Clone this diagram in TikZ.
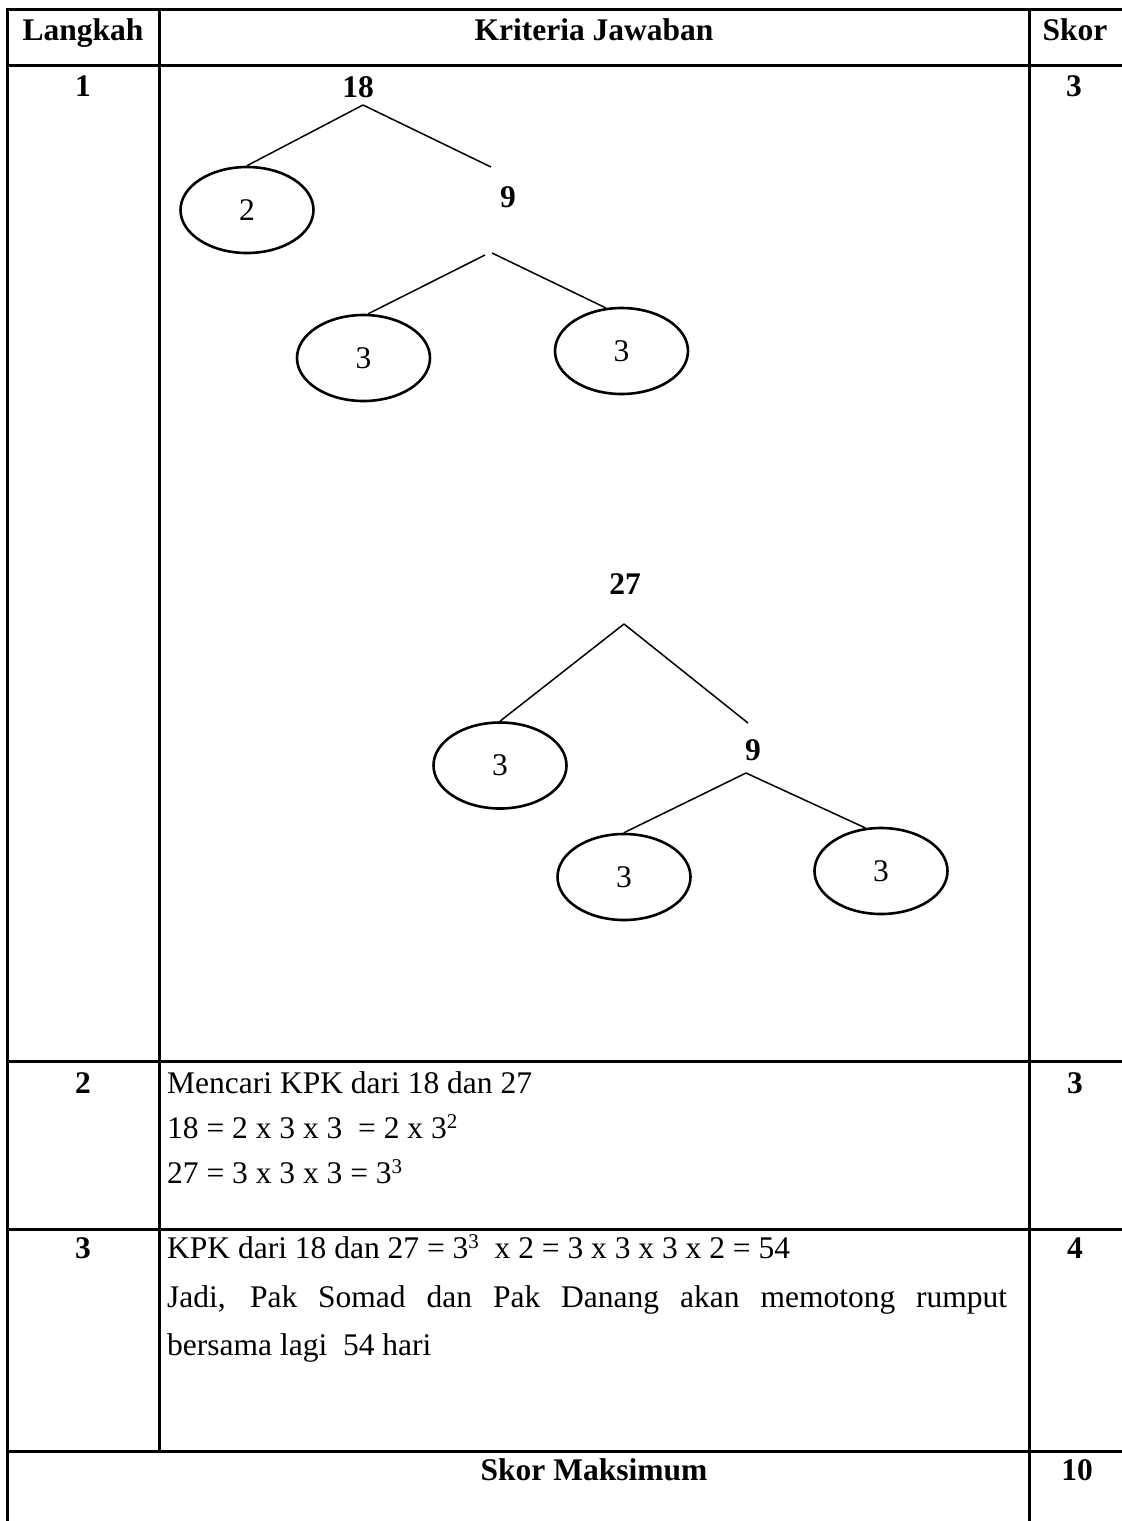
\documentclass[tikz,border=0pt]{standalone}
\usepackage{fontspec}
\setmainfont{Liberation Serif}
\usetikzlibrary{shapes.geometric}
\newcommand{\myfs}{\fontsize{31.5}{38}\selectfont}
\newcommand{\mysup}[1]{\raisebox{10pt}{\fontsize{21}{21}\selectfont #1}}
\begin{document}
\begin{tikzpicture}[x=1pt,y=-1pt,
  grid/.style={line width=3pt, line cap=rect},
  branch/.style={line width=1.5pt},
  factor/.style={draw, ellipse, line width=2.6pt, minimum width=133pt, minimum height=86pt, inner sep=0pt, font=\myfs},
  hd/.style={font=\myfs\bfseries, anchor=base, inner sep=0pt},
  num/.style={font=\myfs\bfseries, anchor=base, inner sep=0pt},
  tx/.style={font=\myfs, anchor=base west, inner sep=0pt}]
\useasboundingbox (0,0) rectangle (1122,1521);
% table rules
\draw[grid] (7.5,9) -- (1122,9);
\draw[grid] (7.5,65) -- (1122,65);
\draw[grid] (7.5,1061) -- (1122,1061);
\draw[grid] (7.5,1229) -- (1122,1229);
\draw[grid] (7.5,1451) -- (1122,1451);
\draw[grid] (7.5,9) -- (7.5,1521);
\draw[grid] (159,9) -- (159,1451);
\draw[grid] (1029,9) -- (1029,1521);
% header
\node[hd] (hL) at (83,40) {Langkah};
\node[hd] (hK) at (594,40) {Kriteria Jawaban};
\node[hd] (hS) at (1075,40) {Skor};
% row 1
\node[num] (n1) at (83,96) {1};
\node[num] (s1) at (1074,96) {3};
% tree of 18
\node[num] (t18) at (358,97) {18};
\coordinate (a18) at (363,105);
\coordinate (r18) at (491,167);
\node[factor] (e2) at (247,210) {2};
\node[num] (t9a) at (508,207) {9};
\coordinate (a9l) at (485,255);
\coordinate (a9r) at (492,253);
\node[factor] (e3a) at (363.5,358) {3};
\node[factor] (e3b) at (621.5,351) {3};
\draw[branch] (a18) -- (e2.north);
\draw[branch] (a18) -- (r18);
\draw[branch] (a9l) -- (e3a.84);
\draw[branch] (a9r) -- (e3b.110);
% tree of 27
\node[num] (t27) at (625,594) {27};
\coordinate (a27) at (624,624);
\coordinate (r27) at (748,723);
\node[factor] (e3c) at (500,765.5) {3};
\node[num] (t9b) at (753,760) {9};
\coordinate (a9b) at (746,773);
\node[factor] (e3d) at (624,877) {3};
\node[factor] (e3e) at (881,871) {3};
\draw[branch] (a27) -- (e3c.north);
\draw[branch] (a27) -- (r27);
\draw[branch] (a9b) -- (e3d.north);
\draw[branch] (a9b) -- (e3e.110);
% row 2
\node[num] (n2) at (83,1093) {2};
\node[num] (s2) at (1075,1093) {3};
\node[tx] (r2a) at (167,1093) {Mencari KPK dari 18 dan 27};
\node[tx] (r2b) at (167,1138) {18 = 2 x 3 x 3\ \ = 2 x 3\mysup{2}};
\node[tx] (r2c) at (167,1183) {27 = 3 x 3 x 3 = 3\mysup{3}};
% row 3
\node[num] (n3) at (83,1258) {3};
\node[num] (s3) at (1075,1258) {4};
\node[tx] (r3a) at (167,1258) {KPK dari 18 dan 27 = 3\mysup{3}\ \ x 2 = 3 x 3 x 3 x 2 = 54};
\node[tx] (r3b) at (167,1307) {\makebox[840pt][s]{Jadi, Pak Somad dan Pak Danang akan memotong rumput}};
\node[tx] (r3c) at (167,1355) {bersama lagi\ \ 54 hari};
% total row
\node[hd] (tot) at (594,1480) {Skor Maksimum};
\node[num] (s4) at (1077,1480) {10};
\end{tikzpicture}
\end{document}
